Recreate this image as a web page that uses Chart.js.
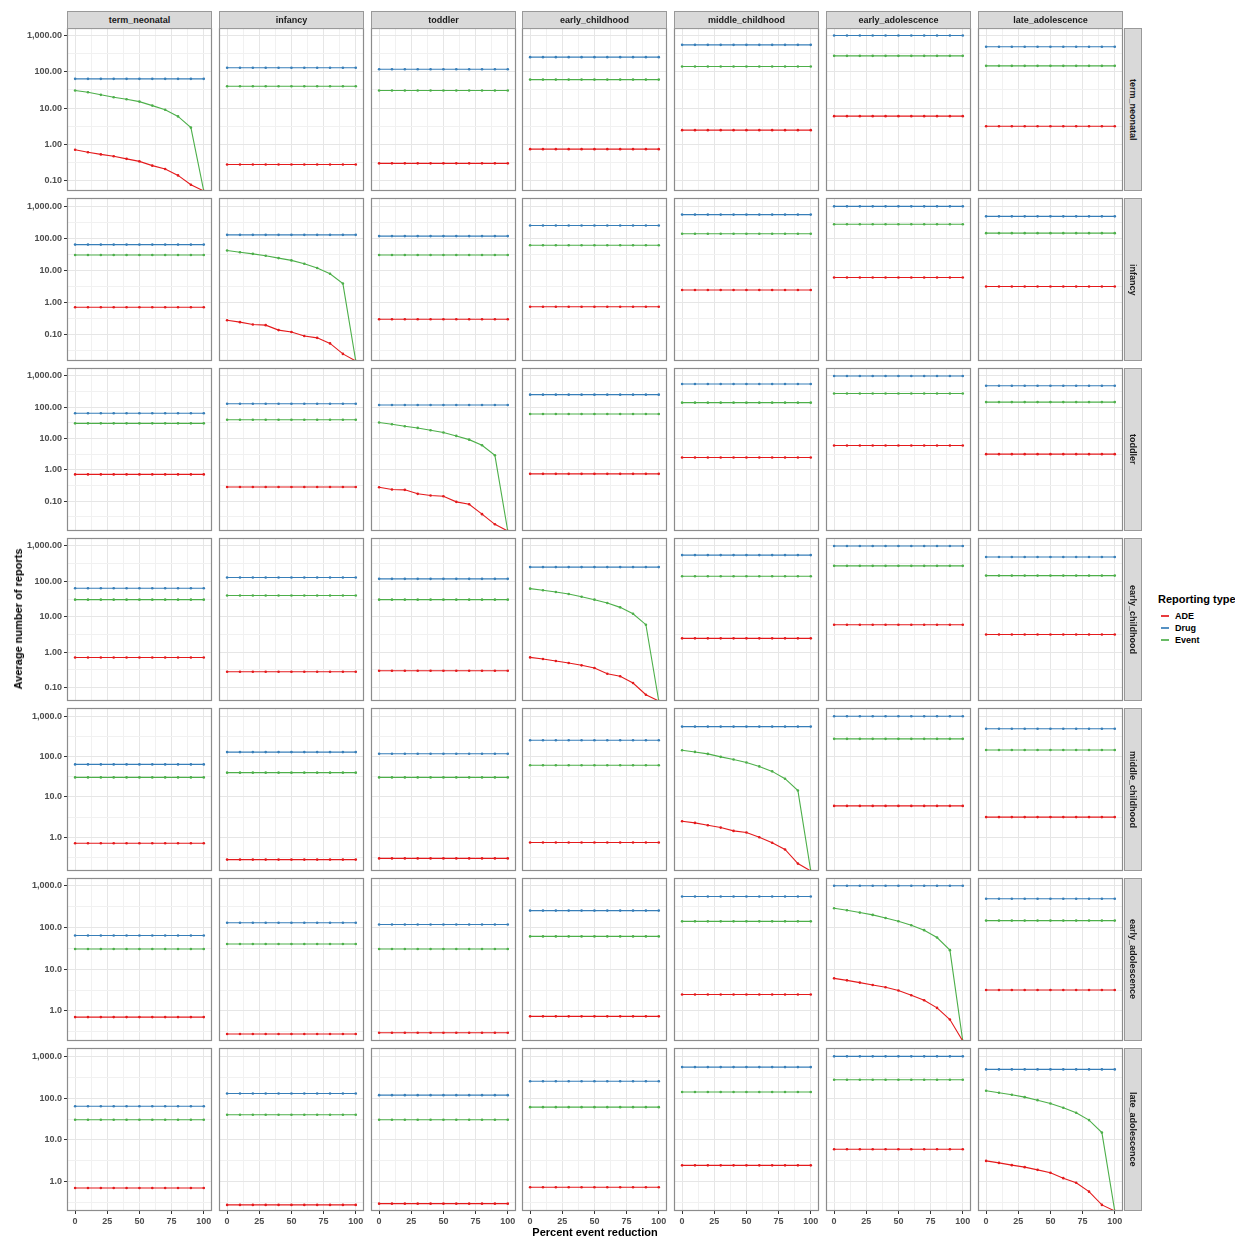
<!DOCTYPE html>
<html>
<head>
<meta charset="utf-8">
<script src="https://cdn.jsdelivr.net/npm/chart.js@4.4.1/dist/chart.umd.min.js"></script>
<style>
  body { margin: 0; background: #fff; font-family: "Liberation Sans", Arial, sans-serif; }
  #page { position: relative; width: 1235px; height: 1240px; overflow: hidden; }
  #page canvas { position: absolute; }
  .strip { position: absolute; background: #d9d9d9; border: 1px solid #999; box-sizing: border-box;
           font-size: 9px; font-weight: bold; color: #1a1a1a; display: flex; align-items: center; justify-content: center; }
  .strip.side span { writing-mode: vertical-rl; }
  .title { position: absolute; font-size: 11px; font-weight: bold; color: #000; white-space: nowrap; z-index: 2; }
  #legend { position: absolute; left: 1158px; top: 593px; white-space: nowrap; }
  #legend .head { font-size: 11px; font-weight: bold; margin-bottom: 5px; }
  #legend .item { display: flex; align-items: center; height: 12px; font-size: 9px; font-weight: bold; }
  #legend .key { width: 8px; height: 2px; margin: 0 6px 0 3px; opacity: 0.85; }
</style>
</head>
<body>
<div id="page"></div>
<script>
const ageGroups = ["term_neonatal", "infancy", "toddler", "early_childhood",
  "middle_childhood", "early_adolescence", "late_adolescence"];
const reportingTypes = ["ADE", "Drug", "Event"];
const typeColors = ["#E41A1C", "#377EB8", "#4DAF4A"];
const percentReduction = [0, 10, 20, 30, 40, 50, 60, 70, 80, 90, 100];
const xTicks = [0, 12.5, 25, 37.5, 50, 62.5, 75, 87.5, 100];

// averages per age group (column) when no reduction is applied to it
const adeBaseline = [0.71, 0.28, 0.30, 0.74, 2.47, 6.0, 3.16];
const drugBaseline = [64, 129, 118, 253, 553, 1000, 488];
const eventBaseline = [30.5, 40, 30.5, 61, 140, 275, 146];

// reduced series, used where the row group equals the column group
const adeReduced = [
  [0.71, 0.61, 0.53, 0.47, 0.40, 0.34, 0.26, 0.21, 0.14, 0.077, 0.052],
  [0.28, 0.244, 0.207, 0.197, 0.138, 0.12, 0.09, 0.079, 0.053, 0.025, 0.015],
  [0.277, 0.233, 0.228, 0.17, 0.15, 0.143, 0.094, 0.079, 0.038, 0.018, 0.011],
  [0.716, 0.643, 0.564, 0.495, 0.427, 0.358, 0.247, 0.209, 0.135, 0.063, 0.042],
  [2.49, 2.27, 1.98, 1.74, 1.44, 1.31, 1.0, 0.73, 0.50, 0.223, 0.146],
  [6.03, 5.4, 4.76, 4.18, 3.68, 3.07, 2.37, 1.8, 1.18, 0.62, 0.19],
  [3.16, 2.83, 2.5, 2.24, 1.93, 1.64, 1.22, 0.95, 0.58, 0.28, 0.2]
];
const eventReduced = [
  [30.5, 27.4, 23.2, 19.9, 17.6, 15.1, 11.7, 9.0, 5.9, 2.9, 0.052],
  [42, 37, 33, 28.8, 24.3, 20.6, 16.2, 11.9, 7.9, 3.9, 0.015],
  [32.4, 28.6, 24.7, 21.8, 18.4, 15.5, 12.1, 9.2, 6.1, 2.9, 0.011],
  [62.4, 56, 50.2, 44, 37, 30.5, 24.5, 18.5, 12.2, 6.0, 0.042],
  [143.6, 130.5, 116.5, 98.4, 84.9, 71.6, 57.1, 43, 28.3, 14.4, 0.146],
  [288, 258, 227, 200, 169, 141, 113, 86, 57.4, 28.6, 0.19],
  [150, 134.5, 120.5, 105.7, 89.6, 74.8, 59, 44.9, 29.9, 15, 0.2]
];

// y range and label precision for each row
const yAxisMin = [0.052, 0.015, 0.011, 0.042, 0.146, 0.19, 0.2];
const yAxisMax = [1610, 1820, 1800, 1680, 1600, 1530, 1585];
const yTickDecimals = [2, 2, 2, 2, 1, 1, 1];

// panel geometry
const colLeft = [67, 219, 371, 522, 674, 826, 978];
const rowTop = [28, 198, 368, 538, 708, 878, 1048];
const panelW = 145, panelH = 163;
const xAxisH = 24;

const page = document.getElementById("page");

const isMajorLog = (v) => Math.abs(Math.log10(v) - Math.round(Math.log10(v))) < 1e-6;

// no label overflow padding, so every chart area lands on its panel box
const noOverflow = (s) => {
  s.paddingLeft = 0; s.paddingRight = 0; s.paddingTop = 0; s.paddingBottom = 0;
};

const panelFrame = {
  id: "panelFrame",
  beforeDraw(chart) {
    const { ctx, chartArea: a } = chart;
    ctx.save();
    ctx.fillStyle = "#fff";
    ctx.fillRect(a.left, a.top, a.width, a.height);
    ctx.restore();
  },
  afterDraw(chart) {
    const { ctx, chartArea: a } = chart;
    ctx.save();
    ctx.strokeStyle = "#8c8c8c";
    ctx.lineWidth = 1.2;
    ctx.strokeRect(a.left + 0.5, a.top + 0.5, a.width - 1, a.height - 1);
    ctx.restore();
  }
};

function seriesFor(row, col) {
  const onDiagonal = row === col;
  return [
    onDiagonal ? adeReduced[row] : percentReduction.map(() => adeBaseline[col]),
    percentReduction.map(() => drugBaseline[col]),
    onDiagonal ? eventReduced[row] : percentReduction.map(() => eventBaseline[col])
  ];
}

function makePanel(row, col) {
  const firstCol = col === 0;
  const lastRow = row === ageGroups.length - 1;
  const canvas = document.createElement("canvas");
  const left = firstCol ? 0 : colLeft[col] - 2;
  const width = firstCol ? colLeft[col] + panelW + 2 : panelW + 4;
  const top = rowTop[row] - 2;
  const height = panelH + 2 + (lastRow ? xAxisH : 2);
  canvas.width = width;
  canvas.height = height;
  canvas.style.left = left + "px";
  canvas.style.top = top + "px";
  page.appendChild(canvas);

  const values = seriesFor(row, col);
  const datasets = reportingTypes.map((name, k) => ({
    label: name,
    data: percentReduction.map((p, i) => ({ x: p, y: values[k][i] })),
    borderColor: typeColors[k],
    backgroundColor: typeColors[k],
    borderWidth: 1.1,
    pointRadius: 1.3,
    pointBorderWidth: 0,
    tension: 0
  }));

  new Chart(canvas, {
    type: "line",
    data: { datasets },
    plugins: [panelFrame],
    options: {
      responsive: false,
      animation: false,
      devicePixelRatio: 1,
      layout: {
        autoPadding: false,
        padding: { left: firstCol ? 0 : 2, right: 2, top: 2, bottom: lastRow ? 0 : 2 }
      },
      plugins: { legend: { display: false }, tooltip: { enabled: false } },
      scales: {
        x: {
          type: "linear",
          min: -6.3,
          max: 106.4,
          bounds: "data",
          border: { display: false },
          afterBuildTicks: (s) => { s.ticks = xTicks.map((v) => ({ value: v })); },
          afterFit: (s) => { s.height = lastRow ? xAxisH : 0; noOverflow(s); },
          grid: {
            color: (c) => (c.tick && c.tick.value % 25 === 0 ? "#e6e6e6" : "#f1f1f1"),
            lineWidth: 1,
            drawTicks: lastRow,
            tickLength: 3,
            tickColor: (c) => (c.tick && c.tick.value % 25 === 0 ? "#333" : "rgba(0,0,0,0)")
          },
          ticks: {
            display: lastRow,
            autoSkip: false,
            maxRotation: 0,
            padding: 2,
            color: "#4d4d4d",
            font: { family: "Liberation Sans", size: 9, weight: "bold" },
            callback: (v) => (v % 25 === 0 ? String(v) : "")
          }
        },
        y: {
          type: "logarithmic",
          min: yAxisMin[row],
          max: yAxisMax[row],
          bounds: "data",
          border: { display: false },
          afterBuildTicks: (s) => {
            const ticks = [];
            const lo = Math.floor(Math.log10(s.min));
            const hi = Math.ceil(Math.log10(s.max));
            for (let e = lo; e <= hi; e++) {
              [Math.pow(10, e), Math.pow(10, e + 0.5)].forEach((v) => {
                if (v >= s.min && v <= s.max) ticks.push({ value: v });
              });
            }
            s.ticks = ticks;
          },
          afterFit: (s) => { s.width = firstCol ? colLeft[0] : 0; noOverflow(s); },
          grid: {
            color: (c) => (c.tick && isMajorLog(c.tick.value) ? "#e6e6e6" : "#f1f1f1"),
            lineWidth: 1,
            drawTicks: firstCol,
            tickLength: 3,
            tickColor: (c) => (c.tick && isMajorLog(c.tick.value) ? "#333" : "rgba(0,0,0,0)")
          },
          ticks: {
            display: firstCol,
            autoSkip: false,
            padding: 2,
            color: "#4d4d4d",
            font: { family: "Liberation Sans", size: 9, weight: "bold" },
            callback: (v) => (isMajorLog(v)
              ? Number(v).toLocaleString("en-US", {
                  minimumFractionDigits: yTickDecimals[row],
                  maximumFractionDigits: yTickDecimals[row]
                })
              : "")
          }
        }
      }
    }
  });
}

for (let r = 0; r < ageGroups.length; r++) {
  for (let c = 0; c < ageGroups.length; c++) makePanel(r, c);
}

// facet strips
ageGroups.forEach((g, c) => {
  const s = document.createElement("div");
  s.className = "strip";
  s.style.cssText = `left:${colLeft[c]}px;top:11px;width:${panelW}px;height:18px;`;
  s.textContent = g;
  page.appendChild(s);
});
ageGroups.forEach((g, r) => {
  const s = document.createElement("div");
  s.className = "strip side";
  s.style.cssText = `left:1124px;top:${rowTop[r]}px;width:18px;height:${panelH}px;`;
  s.innerHTML = `<span>${g}</span>`;
  page.appendChild(s);
});

// axis titles
const xTitle = document.createElement("div");
xTitle.className = "title";
xTitle.textContent = "Percent event reduction";
xTitle.style.cssText = "left:595px;top:1232px;transform:translate(-50%,-50%);";
page.appendChild(xTitle);

const yTitle = document.createElement("div");
yTitle.className = "title";
yTitle.textContent = "Average number of reports";
yTitle.style.cssText = "left:18px;top:619px;transform:translate(-50%,-50%) rotate(-90deg);";
page.appendChild(yTitle);

// legend
const legend = document.createElement("div");
legend.id = "legend";
legend.innerHTML = `<div class="head">Reporting type</div>` +
  reportingTypes.map((t, k) =>
    `<div class="item"><span class="key" style="background:${typeColors[k]}"></span>${t}</div>`).join("");
page.appendChild(legend);
</script>
</body>
</html>
